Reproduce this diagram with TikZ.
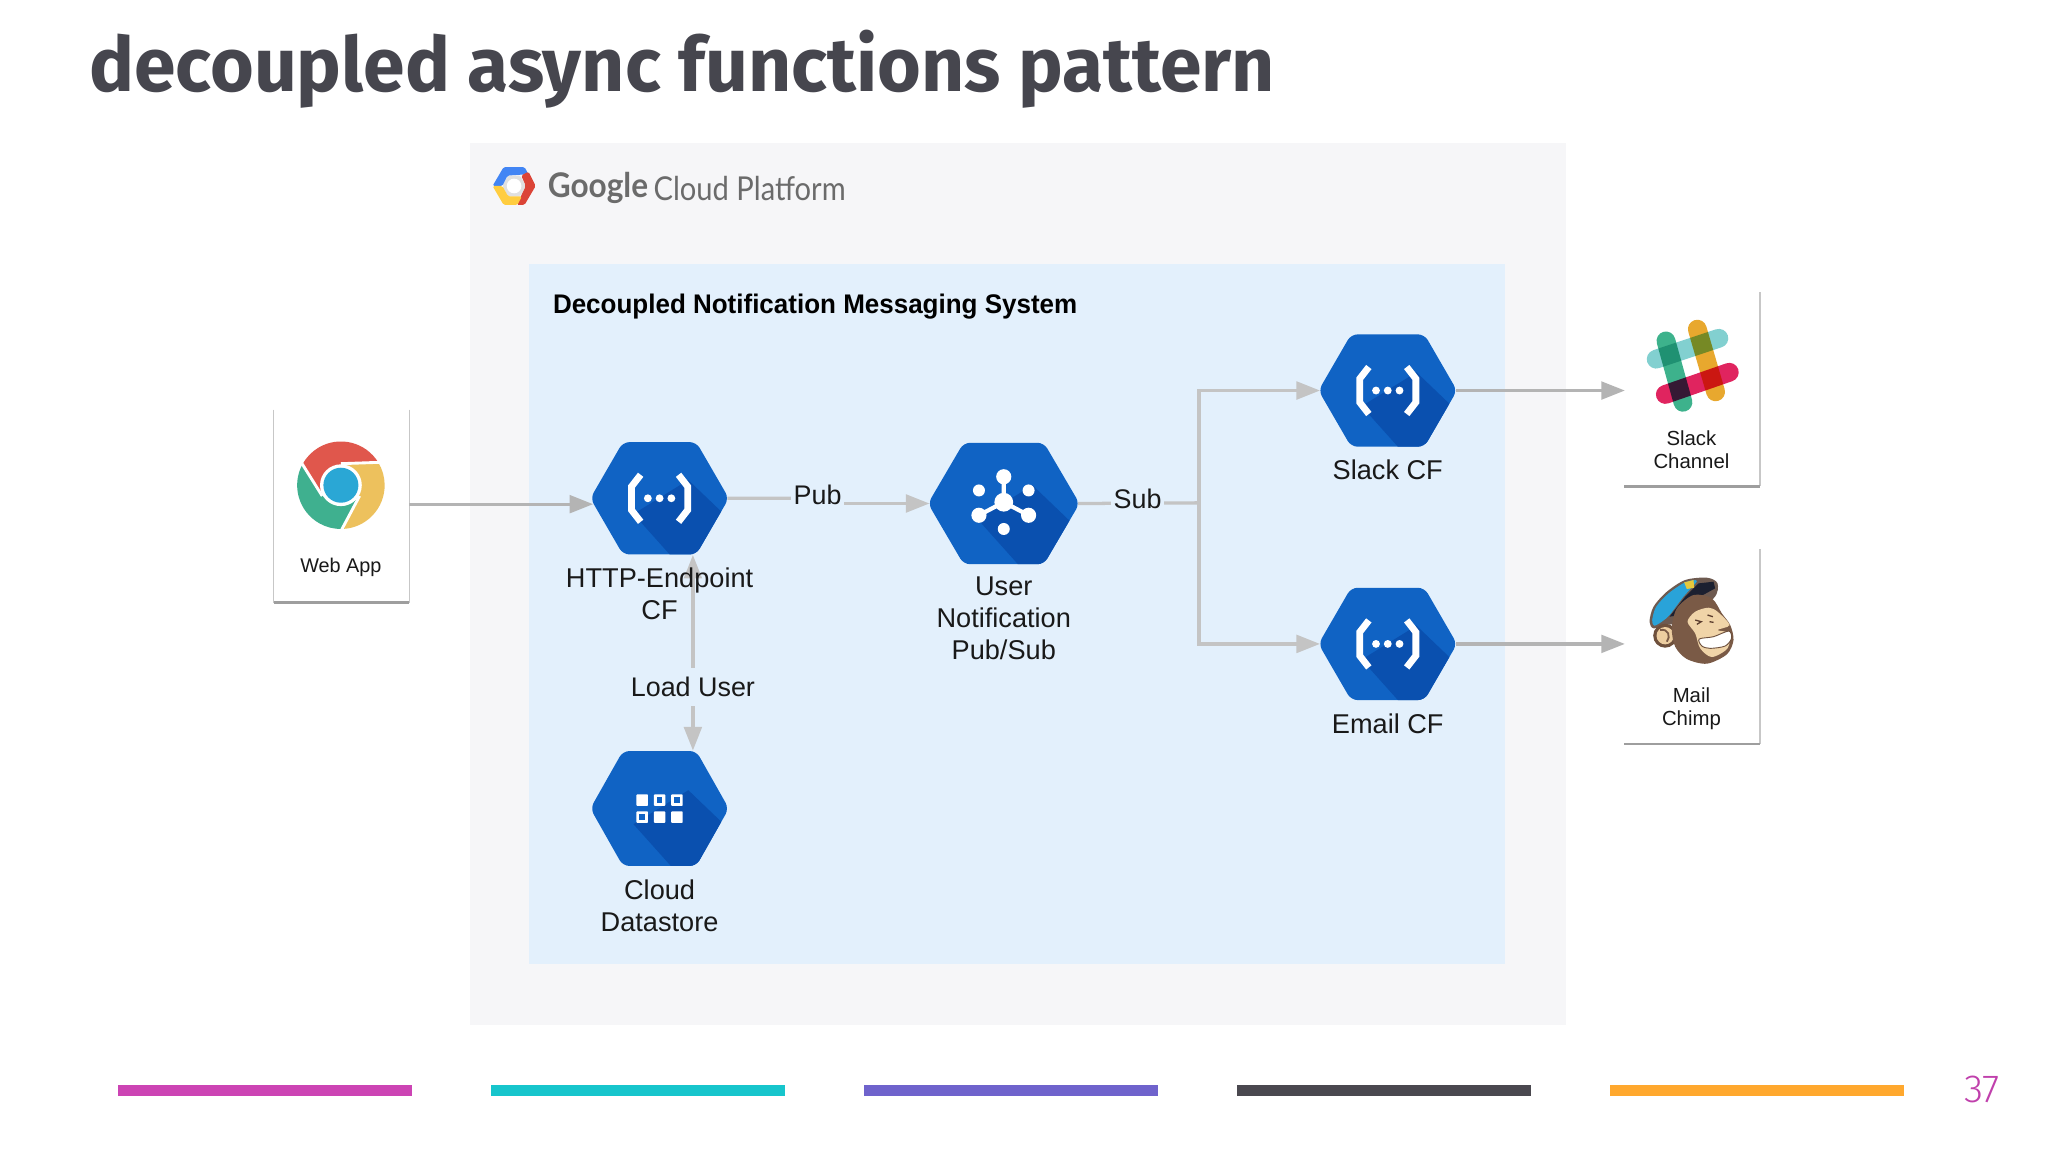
\documentclass[tikz,border=0pt]{standalone}
\usepackage{fontspec}
\usepackage{graphicx}
\usetikzlibrary{arrows.meta,calc}
\setmainfont{Liberation Sans}
\newfontfamily\titlef{Fira Sans}
\newfontfamily\numf{Fira Sans Light}
\newfontfamily\gcpf{Lato}
\definecolor{panelc}{HTML}{F6F6F8}
\definecolor{bluec}{HTML}{E3F0FC}
\definecolor{hexc}{HTML}{1063C4}
\definecolor{hexd}{HTML}{0A50AF}
\definecolor{linec}{HTML}{C4C4C4}
\definecolor{titlec}{HTML}{46464E}
\tikzset{
  x=0.5pt,y=-0.5pt,
  conn/.style={draw=linec,line width=1.25pt},
  tip/.style={-{Triangle[length=9pt,width=6.75pt]}},
  lbl/.style={align=center,anchor=north,inner sep=0pt,text=black!90,font=\fontsize{10.4}{12.4}\selectfont},
  edgelbl/.style={fill=bluec,inner sep=1pt,text=black!90,font=\fontsize{10.3}{12.4}\selectfont},
  cardlbl/.style={align=center,anchor=north,inner sep=0pt,text=black!90,font=\fontsize{7.8}{9}\selectfont},
  box/.style={inner sep=0pt,minimum width=51.5pt},
  cardbox/.style={fill=white,inner sep=0pt,minimum width=51.5pt},
  sideline/.style={draw=black!22,line width=0.5pt},
  baseline/.style={draw=black!38,line width=1pt},
  strip/.style={inner sep=0pt,minimum width=112.5pt,minimum height=4pt,anchor=west},
}
\newcommand{\hexa}[5]{% name,x,y,w,h
  \node[box,minimum width=#4*0.5pt,minimum height=#5*0.5pt] (#1) at (#2,#3) {};
  \pgfmathsetmacro{\hw}{#4/2+1.5}\pgfmathsetmacro{\hf}{0.53*\hw}\pgfmathsetmacro{\hh}{#5/2}
  \begin{scope}[shift={(#1.center)}]
    \begin{scope}
      \clip[rounded corners=2.5pt] (-\hw,0) -- (-\hf,-\hh) -- (\hf,-\hh) -- (\hw,0) -- (\hf,\hh) -- (-\hf,\hh) -- cycle;
      \fill[hexc] (-70,-60) rectangle (70,60);
      \fill[hexd] (-20,12) -- (14,50) -- (70,50) -- (70,32) -- (22,-14) -- cycle;
    \end{scope}
  \end{scope}
}
\newcommand{\funcicon}[1]{%
  \begin{scope}[shift={(#1.center)}]
    \draw[white,line width=2.6pt,line join=miter] (-14.5,-18) -- (-21.5,-9) -- (-21.5,9) -- (-14.5,18);
    \draw[white,line width=2.6pt,line join=miter] (14.5,-18) -- (21.5,-9) -- (21.5,9) -- (14.5,18);
    \foreach \dx in {-9,0,9} \fill[white] (\dx,0) circle[radius=1.5pt];
  \end{scope}
}
\newcommand{\pubsubicon}[1]{%
  \begin{scope}[shift={(#1.center)}]
    \draw[white,line width=1.6pt] (0,-20) -- (0,-1) -- (-19,9) (0,-1) -- (19,9);
    \fill[white] (0,-1) circle[radius=3.6pt];
    \foreach \p/\r in {{0,-20.5}/2.9,{-19,9}/2.9,{19,9}/2.9,{-19,-10}/2.3,{19,-10}/2.3,{0,19.5}/2.3}
      \fill[white] (\p) circle[radius=\r pt];
  \end{scope}
}
\newcommand{\dataicon}[1]{%
  \begin{scope}[shift={(#1.center)}]
    \foreach \x/\y in {-13.3/-6.4,0/-6.4,13.3/-6.4,-13.3/6.6,0/6.6,13.3/6.6}
      \fill[white,rounded corners=0.3pt] (\x-4.4,\y-4.4) rectangle (\x+4.4,\y+4.4);
    \foreach \x/\y in {0/-6.4,13.3/-6.4,-13.3/6.6}
      \fill[hexc] (\x-2.2,\y-2.2) rectangle (\x+2.2,\y+2.2);
  \end{scope}
}
\begin{document}
\begin{tikzpicture}
\useasboundingbox (0,0) rectangle (1568,882);
\fill[white] (0,0) rectangle (1568,882);

% title
\node[anchor=west,inner sep=0pt,text=titlec] (title) at (68,53) {\scalebox{0.99}[1]{\titlef\bfseries\fontsize{29}{34}\selectfont decoupled async functions pattern}};

% panels
\node[fill=panelc,inner sep=0pt,minimum width=419.5pt,minimum height=337.5pt,anchor=north west] (gcp) at (359.5,109) {};
\node[fill=bluec,inner sep=0pt,minimum width=373.5pt,minimum height=268pt,anchor=north west] (sys) at (404.5,202) {};

% Google logo
\begin{scope}[shift={(393.6,142.4)},rounded corners=0.6pt]
  \fill[black!12] (-9,0) -- (-4.5,-8) -- (4.5,-8) -- (9,0) -- (4.5,8) -- (-4.5,8) -- cycle;
  \fill[white] (0,0) circle[radius=2.8pt];
  \fill[fill={rgb,255:red,66;green,133;blue,244}] (-16.5,0) -- (-8,-14.5) -- (8,-14.5) -- (11,-9) -- (-5,-8) -- (-9,0) -- cycle;
  \fill[fill={rgb,255:red,219;green,68;blue,55}] (11,-11) -- (16.5,0) -- (8,14.5) -- (2,14.5) -- (9,0) -- (5.5,-8) -- cycle;
  \fill[fill={rgb,255:red,255;green,205;blue,64}] (-16.5,0) -- (-9,0) -- (-4.5,8) -- (6,8) -- (2.5,14.5) -- (-8,14.5) -- cycle;
\end{scope}
\node[anchor=west,inner sep=0pt,text=black!58] (gg) at (419,144) {\gcpf\bfseries\fontsize{13}{15}\selectfont\scalebox{0.93}[1]{Google}};
\node[anchor=west,inner sep=0pt,text=black!58] (gp) at (500,144) {\gcpf\fontsize{12.6}{15}\selectfont\scalebox{0.885}[1]{Cloud Platform}};

\node[anchor=west,inner sep=0pt,text=black,font=\bfseries\fontsize{10.3}{12}\selectfont] (systitle) at (423,234.5) {\scalebox{0.966}[1]{Decoupled Notification Messaging System}};

% cards
\node[cardbox,minimum height=73.5pt] (web) at (261.5,387.5) {};
\node[cardbox,minimum height=74pt] (slackc) at (1295.5,298) {};
\node[cardbox,minimum height=74.25pt] (mailc) at (1295.5,495) {};
\draw[sideline] (web.north west) -- (web.south west) (web.north east) -- (web.south east);
\draw[baseline] (web.south west) -- (web.south east);
\draw[sideline] (slackc.north east) -- (slackc.south east);
\draw[baseline] (slackc.south west) -- (slackc.south east);
\draw[sideline] (mailc.north east) -- (mailc.south east);
\draw[baseline] (mailc.south west) -- (mailc.south east);

% hexagons
\hexa{http}{505}{381.5}{103}{86}
\hexa{pubsub}{768.5}{385.5}{113}{93}
\hexa{slackf}{1062.5}{299}{103}{86}
\hexa{emailf}{1062.5}{493}{103}{86}
\hexa{ds}{505}{619}{103}{88}
\funcicon{http}\funcicon{slackf}\funcicon{emailf}\pubsubicon{pubsub}\dataicon{ds}

% connectors
\coordinate (jun) at (918,385);
\coordinate (slackin) at (1244,299);
\coordinate (mailin) at (1244,493);
\draw[conn,tip,draw=linec!92!black] ($(web.east)+(0,-1.5)$) -- ($(http.west)+(1,4.5)$);
\draw[conn] (http.east) -- ($(http.east)+(70,0)$) -- ($(pubsub.west)+(-86,0)$);
\draw[conn,tip] ($(pubsub.west)+(-86,0)$) -- (pubsub.west);
\draw[conn] (pubsub.east) -- (jun);
\draw[conn,tip] (jun) |- (slackf.west);
\draw[conn,tip] (jun) |- (emailf.west);
\draw[conn,tip,draw=linec!92!black] (slackf.east) -- (slackin);
\draw[conn,tip,draw=linec!92!black] (emailf.east) -- (mailin);
\draw[conn,{Triangle[length=9pt,width=6.75pt]}-{Triangle[length=9pt,width=6.75pt]}] ($(http.south)+(25.5,0)$) -- ($(ds.north)+(25.5,0)$);

% labels
\node[lbl] (httpl) at (505,434) {HTTP-Endpoint\\CF};
\node[lbl] (psl) at (768.5,441) {User\\Notification\\Pub/Sub};
\node[lbl] (slackl) at (1062.5,352) {Slack CF};
\node[lbl] (emaill) at (1062.5,546) {Email CF};
\node[lbl] (dsl) at (505,673) {Cloud\\Datastore};
\node[edgelbl] (publ) at (626,379) {Pub};
\node[edgelbl] (subl) at (871,382) {Sub};
\node[edgelbl,inner ysep=3.5pt] (loadl) at (530.5,526) {Load User};
\node[cardlbl,font=\fontsize{7.6}{10}\selectfont] (webl) at (261,427) {Web App};
\node[cardlbl] (slackt) at (1295,329) {Slack\\Channel};
\node[cardlbl] (mailt) at (1295,526) {Mail\\Chimp};

% chrome logo
\begin{scope}[shift={(261,371.5)}]
  \foreach \rot/\col in {0/E0574C,120/EDC15D,240/3FB08F}{
    \definecolor{tmpc}{HTML}{\col}
    \fill[tmpc,rotate=-\rot,x=0.5pt,y=0.5pt] (90:15.5) -- (31:33.5) arc[start angle=31,end angle=151,radius=33.5] -- (210:15.5) arc[start angle=210,end angle=90,radius=15.5] -- cycle;
  }
  \draw[white,line width=1.1pt,x=0.5pt,y=0.5pt] (90:16.5) -- (31:34)  (210:16.5) -- (151:34) (-30:16.5) -- (-89:34);
  \fill[white] (0,0) circle[radius=8pt];
  \fill[fill={rgb,255:red,42;green,167;blue,213}] (0,0) circle[radius=6.7pt];
\end{scope}

% slack logo
\begin{scope}[line cap=round,line width=7.2pt,blend mode=multiply]
  \draw[color={rgb,255:red,61;green,178;blue,140}] (1275.5,261) -- (1288.5,308);
  \draw[color={rgb,255:red,232;green,168;blue,46}] (1299.5,252) -- (1313.5,300);
  \draw[color={rgb,255:red,130;green,208;blue,208}] (1268,275) -- (1316,259);
  \draw[color={rgb,255:red,224;green,36;blue,95}] (1275,302) -- (1324,285);
\end{scope}

% mailchimp logo
\begin{scope}[shift={(1248.1,432.6)},scale=0.2552]
  % hat
  \fill[color={rgb,255:red,110;green,90;blue,80}] plot[smooth cycle] coordinates {(58,170) (70,125) (110,80) (165,45) (230,38) (262,55) (250,100) (150,170) (105,180) (70,190)};
  \fill[color={rgb,255:red,41;green,163;blue,217}] plot[smooth cycle] coordinates {(66,165) (78,125) (115,85) (165,52) (200,48) (160,95) (118,150) (95,170) (72,182)};
  \fill[color={rgb,255:red,28;green,32;blue,48}] (118,155) -- (165,95) -- (205,55) -- (250,50) -- (255,70) -- (200,100) -- (150,150) -- cycle;
  \fill[color={rgb,255:red,230;green,200;blue,60}] (162,52) -- (190,45) -- (192,68) -- (170,72) -- cycle;
  % ear
  \fill[color={rgb,255:red,110;green,80;blue,60}] (105,212) circle[radius=36];
  \fill[color={rgb,255:red,236;green,205;blue,160}] (105,212) circle[radius=26];
  % head
  \fill[color={rgb,255:red,122;green,90;blue,70}] plot[smooth cycle] coordinates {(125,190) (140,130) (190,90) (245,100) (275,145) (300,180) (310,225) (290,268) (230,296) (170,282) (135,245)};
  % face
  \fill[color={rgb,255:red,240;green,212;blue,168}] plot[smooth cycle] coordinates {(172,170) (195,140) (235,128) (262,140) (298,180) (262,195) (298,205) (292,250) (245,276) (210,250) (195,205)};
  % smile
  \fill[white,draw={rgb,255:red,110;green,80;blue,60},line width=0.35pt] plot[smooth cycle] coordinates {(207,222) (250,215) (296,198) (304,220) (285,243) (240,250) (215,243)};
  % eyes, nose
  \draw[color={rgb,255:red,90;green,60;blue,45},line width=0.5pt] (195,165) -- (213,170) -- (200,178) (232,150) -- (248,155) (238,170) -- (250,172);
  \draw[color={rgb,255:red,122;green,90;blue,70},line width=0.7pt] (90,195) .. controls (115,190) and (122,215) .. (110,230);
\end{scope}

% strips
\node[strip,fill={rgb,255:red,204;green,68;blue,180}] (s1) at (90,835) {};
\node[strip,fill={rgb,255:red,23;green,197;blue,204}] (s2) at (375.5,835) {};
\node[strip,fill={rgb,255:red,111;green,99;blue,204}] (s3) at (661,835) {};
\node[strip,fill={rgb,255:red,74;green,72;blue,79}] (s4) at (947,835) {};
\node[strip,fill={rgb,255:red,255;green,168;blue,46}] (s5) at (1232.5,835) {};
\node[inner sep=0pt,text={rgb,255:red,192;green,64;blue,172}] (pg) at (1517.5,834) {\numf\fontsize{15}{17}\selectfont 37};
\end{tikzpicture}
\end{document}
